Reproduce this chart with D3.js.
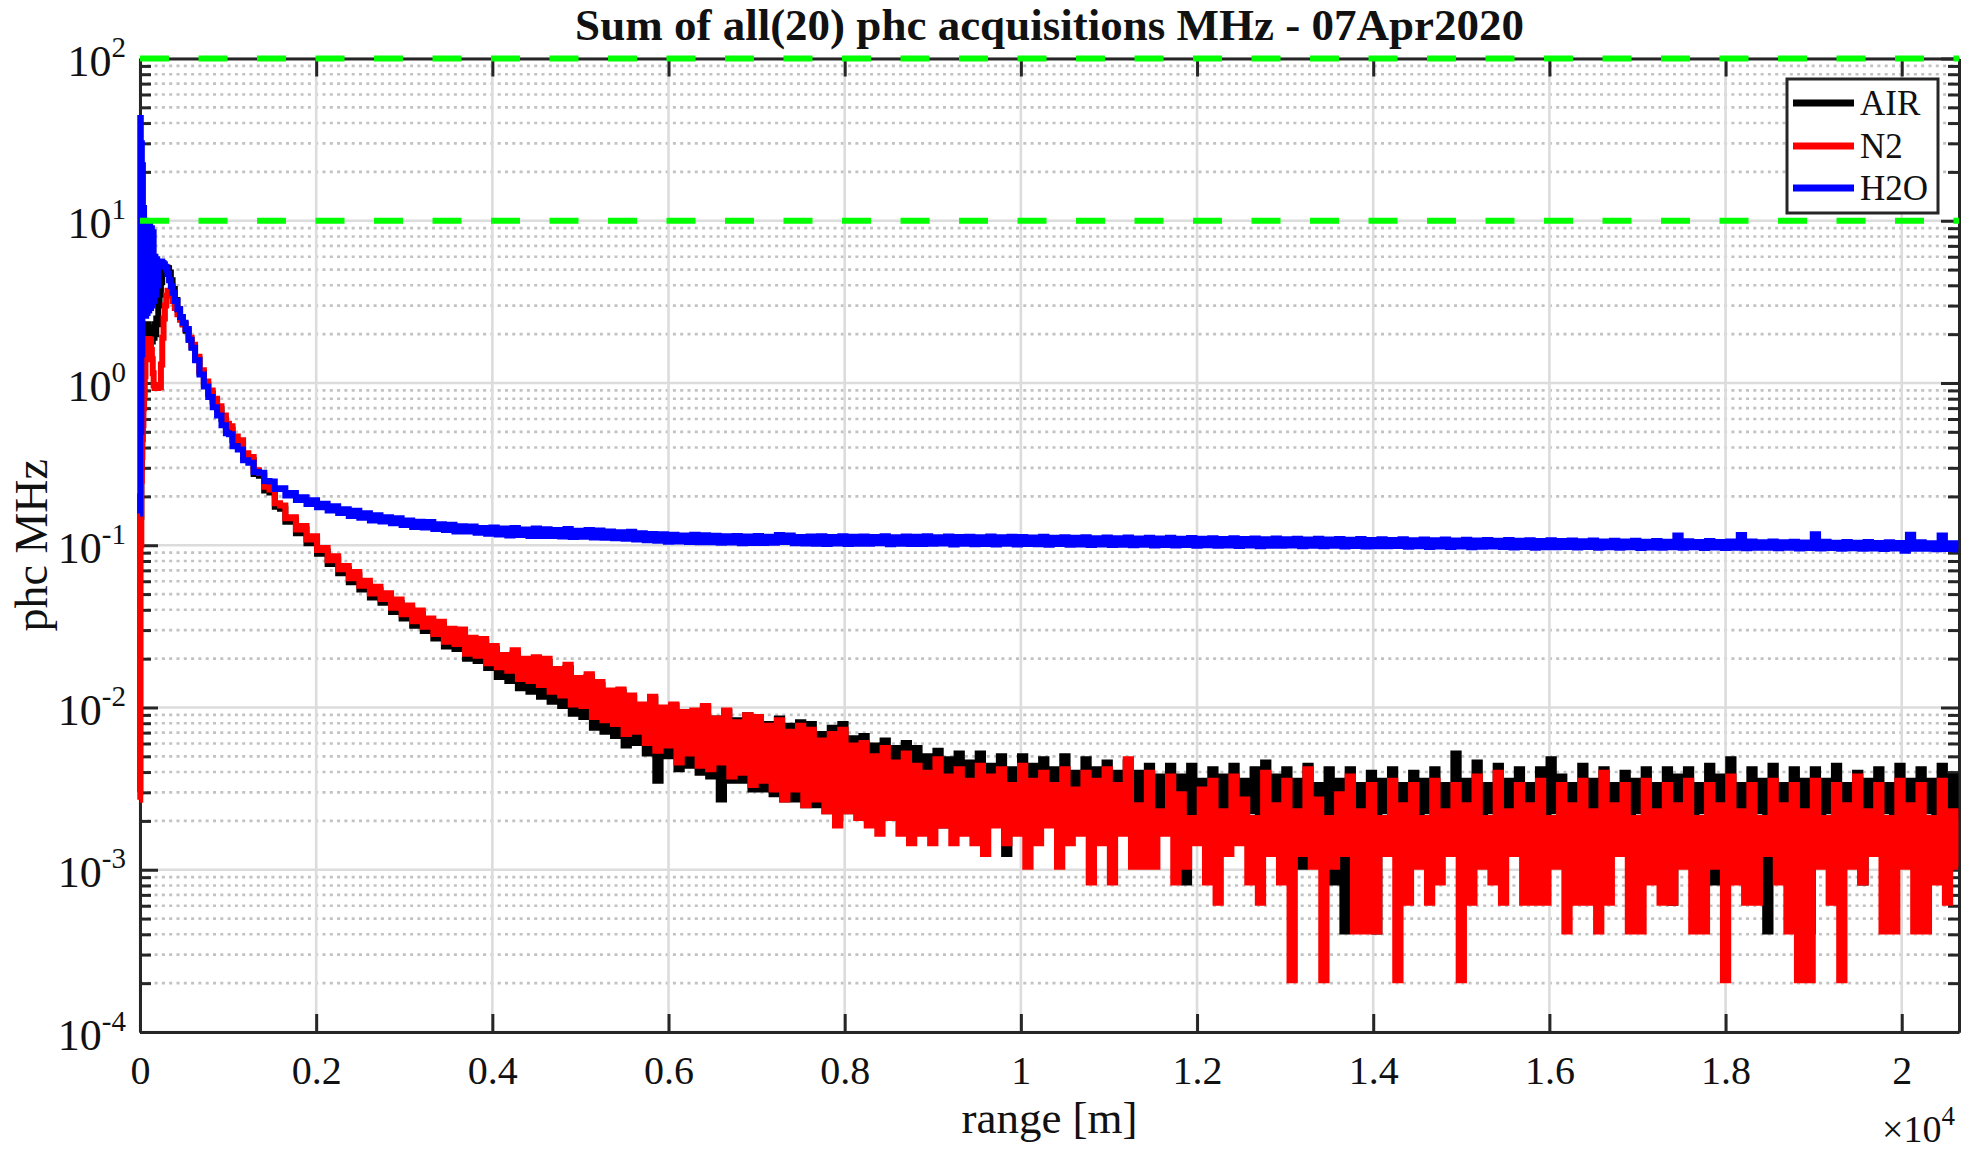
<!DOCTYPE html>
<html><head><meta charset="utf-8">
<script src="https://cdn.jsdelivr.net/npm/d3@7"></script>
<style>
html,body{margin:0;padding:0;background:#fff;}
svg{display:block;}
text{font-family:"Liberation Serif","Times New Roman",serif;fill:#111;}
</style></head><body>
<svg id="chart" width="1972" height="1153"></svg>
<script>
// ---------------- DATA ----------------
const titleText = "Sum of all(20) phc acquisitions MHz - 07Apr2020";
const xLabelText = "range [m]";
const yLabelText = "phc MHz";
const seriesNames = ["AIR", "N2", "H2O"];
const seriesColors = ["#000000", "#ff0000", "#0000ff"];
const xTickValues = [0, 2000, 4000, 6000, 8000, 10000, 12000, 14000, 16000, 18000, 20000];
const xTickLabels = ["0", "0.2", "0.4", "0.6", "0.8", "1", "1.2", "1.4", "1.6", "1.8", "2"];
const xExponentLabel = "4";
const yTickExponents = [-4, -3, -2, -1, 0, 1, 2];
const thresholdLevels = [100, 10];

// near field: explicit range bins (m) and values (MHz)
const nearRange = [0, 6, 12, 18, 24, 30, 36, 42, 50, 58, 66, 74, 82, 90, 100, 110, 120, 130, 140, 150, 160, 170, 180, 190, 200, 215, 230, 245, 260, 275, 290, 305, 320, 340, 360, 380, 410, 440, 470, 500, 535, 570, 600, 650, 700, 750, 800, 850, 900, 950, 1000];
const airNear = [0.003, 0.2, 0.15, 0.3, 0.5, 0.7, 0.9, 1.2, 1.5, 1.8, 2.1, 2.3, 2.0, 2.3, 1.8, 2.2, 1.75, 2.2, 1.8, 2.1, 1.9, 2.3, 2.0, 2.5, 2.3, 3.0, 3.5, 4.2, 4.7, 5.0, 5.1, 5.15, 5.1, 4.8, 4.3, 3.8, 3.25, 2.85, 2.55, 2.3, 2.1, 1.85, 1.66, 1.40, 1.16, 0.98, 0.86, 0.77, 0.69, 0.6, 0.535];
const n2Near = [0.0027, 0.16, 0.10, 0.25, 0.35, 0.45, 0.55, 0.7, 0.85, 1.1, 1.4, 1.87, 1.5, 1.8, 1.87, 1.7, 1.85, 1.6, 1.4, 1.15, 0.97, 0.93, 0.93, 0.95, 0.93, 0.97, 0.94, 1.3, 1.9, 2.5, 3.0, 3.45, 3.7, 3.65, 3.45, 3.2, 2.9, 2.65, 2.45, 2.3, 2.15, 1.9, 1.72, 1.45, 1.2, 1.02, 0.9, 0.8, 0.72, 0.63, 0.56];
const h2oNear = [0.157, 43, 0.5, 30, 1.5, 22, 4, 12, 3.0, 10, 2.6, 9.5, 2.7, 9.8, 2.8, 9.5, 2.9, 9.0, 3.0, 8.5, 3.2, 6.0, 3.5, 5.8, 4.0, 5.6, 5.6, 5.6, 5.5, 5.4, 5.2, 5.0, 4.7, 4.3, 3.95, 3.6, 3.2, 2.85, 2.55, 2.35, 2.15, 1.85, 1.65, 1.38, 1.13, 0.95, 0.82, 0.71, 0.63, 0.55, 0.49];

// far field: summed photon counts per 60 m bin starting at 1020 m
const farStartRange = 1020;
const farBinWidth = 60;
const countsPerMHz = 4800;
const airFarCounts = [
2480, 2140, 2040, 1680, 1610, 1320, 1285, 1045, 1015, 828,
806, 671, 684, 569, 603, 494, 521, 425, 441, 368,
391, 323, 342, 284, 313, 256, 277, 229, 254, 212,
232, 186, 212, 170, 195, 153, 181, 142, 162, 128,
155, 114, 140, 110, 138, 96, 123, 93, 121, 84,
110, 74, 97, 70, 103, 63, 92, 60, 94, 56,
92, 52, 80, 49, 84, 44, 70, 42, 74, 36,
66, 34, 59, 32, 60, 28, 55, 29, 49, 25,
54, 17, 47, 24, 49, 20, 44, 21, 45, 19,
48, 18, 41, 13, 45, 17, 40, 17, 43, 15,
42, 15, 38, 14, 41, 13, 37, 13, 39, 12,
38, 12, 33, 11, 36, 10, 38, 11, 31, 11,
32, 11, 28, 10, 30, 11, 27, 10, 29, 10,
27, 10, 24, 11, 26, 9, 23, 10, 25, 11,
22, 10, 25, 11, 21, 10, 24, 6, 20, 10,
24, 11, 21, 10, 23, 11, 20, 10, 24, 11,
19, 10, 23, 11, 20, 10, 22, 11, 19, 10,
22, 11, 19, 10, 21, 11, 18, 10, 21, 11,
18, 4, 21, 10, 17, 11, 20, 10, 18, 11,
21, 10, 17, 11, 20, 10, 22, 11, 18, 10,
20, 11, 17, 5, 21, 6, 16, 10, 20, 4,
17, 2, 20, 10, 16, 10, 19, 2, 17, 11,
20, 10, 16, 11, 19, 10, 17, 11, 20, 10,
16, 10, 25, 11, 17, 10, 22, 10, 16, 11,
21, 10, 17, 11, 20, 10, 16, 11, 20, 10,
23, 11, 18, 10, 16, 11, 21, 10, 17, 11,
20, 10, 16, 11, 19, 10, 17, 11, 20, 11,
16, 10, 20, 3, 18, 11, 20, 10, 16, 11,
21, 4, 18, 10, 23, 11, 16, 10, 20, 11,
17, 2, 21, 11, 16, 10, 20, 11, 17, 2,
20, 10, 17, 11, 21, 10, 16, 11, 19, 4,
17, 10, 20, 11, 16, 10, 21, 11, 17, 10,
20, 11, 17, 10, 21, 11, 18, 10];
const n2FarCounts = [
2600, 2250, 2130, 1770, 1680, 1390, 1340, 1100, 1060, 870,
845, 705, 715, 600, 630, 520, 545, 448, 462, 388,
410, 341, 358, 300, 328, 270, 290, 242, 266, 224,
243, 198, 222, 180, 204, 163, 190, 151, 170, 136,
162, 122, 147, 118, 145, 103, 129, 100, 127, 90,
115, 85, 101, 81, 108, 72, 96, 70, 98, 66,
96, 60, 83, 57, 88, 50, 73, 49, 77, 42,
69, 40, 61, 38, 62, 33, 57, 34, 50, 29,
56, 26, 48, 28, 50, 22, 45, 25, 46, 21,
49, 20, 41, 22, 46, 18, 39, 19, 43, 16,
42, 17, 37, 15, 40, 13, 34, 15, 37, 12,
35, 13, 30, 11, 33, 9, 35, 11, 28, 10,
29, 9, 24, 8, 27, 10, 22, 8, 25, 7,
21, 8, 19, 7, 23, 9, 18, 7, 20, 8,
17, 7, 21, 6, 18, 9, 20, 7, 16, 8,
21, 5, 17, 7, 19, 9, 16, 5, 20, 7,
15, 8, 19, 4, 17, 7, 20, 4, 16, 8,
23, 5, 12, 5, 19, 5, 11, 8, 18, 4,
14, 5, 10, 7, 15, 4, 17, 3, 11, 6,
18, 7, 13, 4, 10, 3, 19, 6, 12, 4,
17, 1, 11, 6, 20, 5, 13, 1, 10, 5,
14, 6, 18, 2, 11, 2, 16, 2, 10, 6,
17, 1, 12, 3, 16, 5, 10, 3, 17, 4,
11, 6, 16, 1, 12, 3, 18, 5, 10, 4,
19, 3, 11, 6, 16, 3, 12, 3, 17, 3,
10, 5, 16, 2, 12, 3, 17, 3, 11, 2,
19, 3, 12, 6, 16, 2, 10, 2, 17, 4,
11, 3, 16, 3, 12, 5, 17, 2, 10, 2,
16, 5, 12, 1, 18, 4, 11, 3, 16, 3,
10, 6, 17, 4, 12, 2, 16, 1, 11, 1,
17, 5, 10, 3, 16, 1, 12, 5, 18, 4,
11, 6, 16, 2, 10, 2, 17, 5, 12, 2,
16, 2, 10, 4, 17, 3, 11, 5];
const h2oFarCounts = [
2318, 1956, 1868, 1606, 1550, 1355, 1345, 1193, 1185, 1065,
1079, 973, 1008, 913, 950, 862, 909, 824, 864, 785,
834, 759, 800, 728, 783, 709, 756, 683, 734, 672,
713, 655, 703, 639, 682, 622, 670, 617, 667, 605,
647, 596, 641, 584, 629, 583, 627, 573, 614, 566,
618, 559, 609, 552, 614, 556, 601, 548, 608, 547,
602, 548, 596, 544, 605, 539, 590, 542, 597, 535,
591, 533, 583, 531, 578, 526, 582, 520, 569, 515,
564, 511, 561, 505, 557, 507, 552, 503, 557, 500,
553, 501, 549, 497, 546, 499, 548, 493, 543, 496,
547, 495, 542, 497, 556, 503, 552, 494, 540, 492,
543, 491, 546, 489, 540, 492, 545, 488, 542, 491,
543, 490, 539, 493, 546, 487, 538, 491, 544, 489,
541, 488, 545, 490, 537, 492, 543, 486, 539, 490,
542, 487, 538, 489, 544, 485, 537, 490, 541, 486,
539, 488, 535, 487, 541, 484, 534, 488, 538, 483,
534, 486, 537, 482, 531, 485, 536, 481, 530, 484,
535, 480, 529, 483, 534, 479, 528, 482, 533, 478,
527, 481, 532, 477, 526, 480, 531, 476, 525, 479,
530, 475, 524, 478, 529, 474, 523, 477, 528, 476,
522, 478, 527, 474, 521, 477, 526, 473, 520, 476,
525, 472, 519, 475, 524, 471, 518, 474, 523, 473,
517, 475, 522, 470, 516, 473, 521, 469, 515, 472,
520, 468, 514, 471, 519, 467, 513, 470, 518, 471,
512, 469, 517, 465, 511, 468, 516, 464, 510, 467,
515, 466, 509, 469, 514, 465, 508, 468, 513, 464,
507, 467, 512, 463, 506, 466, 511, 462, 505, 465,
510, 464, 504, 467, 552, 463, 508, 466, 503, 462,
509, 465, 502, 461, 507, 464, 556, 460, 506, 463,
501, 464, 506, 460, 500, 463, 505, 459, 499, 462,
561, 458, 504, 461, 498, 457, 503, 460, 497, 456,
502, 459, 496, 455, 501, 458, 495, 444, 558, 457,
500, 456, 494, 453, 552, 455, 493, 452];

// ---------------- LAYOUT ----------------
const P = {left: 140, right: 1959, top: 58.5, bottom: 1032};
const xMax = 20650;
const axisColor = "#262626";
const lineW = 6;

const svg = d3.select("#chart");
const x = d3.scaleLinear().domain([0, xMax]).range([P.left, P.right]);
const y = d3.scaleLog().domain([1e-4, 1e2]).range([P.bottom, P.top]);

function buildSeries(near, farCounts) {
  const pts = nearRange.map((r, i) => ({r: r, v: near[i]}));
  farCounts.forEach((c, i) => pts.push({r: farStartRange + farBinWidth * i, v: c / countsPerMHz}));
  return pts;
}
const series = [
  buildSeries(airNear, airFarCounts),
  buildSeries(n2Near, n2FarCounts),
  buildSeries(h2oNear, h2oFarCounts)
];

const decades = yTickExponents.map(e => Math.pow(10, e));
const minorVals = [];
for (let e = -4; e < 2; e++) for (let k = 2; k <= 9; k++) minorVals.push(k * Math.pow(10, e));

// ---------------- GRID ----------------
const grid = svg.append("g");
grid.selectAll("line.minor").data(minorVals).join("line")
  .attr("x1", P.left).attr("x2", P.right)
  .attr("y1", d => y(d)).attr("y2", d => y(d))
  .attr("stroke", "#c2c2c2").attr("stroke-width", 2.6).attr("stroke-dasharray", "3 4.3");
grid.selectAll("line.hmaj").data(decades).join("line")
  .attr("x1", P.left).attr("x2", P.right)
  .attr("y1", d => y(d)).attr("y2", d => y(d))
  .attr("stroke", "#dcdcdc").attr("stroke-width", 2.6);
grid.selectAll("line.vmaj").data(xTickValues).join("line")
  .attr("x1", d => x(d)).attr("x2", d => x(d))
  .attr("y1", P.top).attr("y2", P.bottom)
  .attr("stroke", "#dcdcdc").attr("stroke-width", 2.6);

// ---------------- AXES ----------------
function styleAxis(g) {
  g.select(".domain").attr("stroke", axisColor).attr("stroke-width", 3);
  g.selectAll(".tick line").attr("stroke", axisColor).attr("stroke-width", 3);
}
const gxB = svg.append("g").attr("transform", `translate(0,${P.bottom})`)
  .call(d3.axisBottom(x).tickValues(xTickValues).tickSize(-18).tickSizeOuter(0)
    .tickFormat((d, i) => xTickLabels[i]));
styleAxis(gxB);
gxB.selectAll(".tick text").attr("y", 52).attr("dy", 0)
  .attr("font-size", 40).attr("font-family", "Liberation Serif").attr("fill", "#111");

const gxT = svg.append("g").attr("transform", `translate(0,${P.top})`)
  .call(d3.axisTop(x).tickValues(xTickValues).tickSize(-18).tickSizeOuter(0).tickFormat(""));
styleAxis(gxT);

const gyL = svg.append("g").attr("transform", `translate(${P.left},0)`)
  .call(d3.axisLeft(y).tickValues(decades).tickSize(-18).tickSizeOuter(0).tickFormat(""));
styleAxis(gyL);
gyL.selectAll(".tick text").each(function(d, i) {
  const t = d3.select(this);
  t.text(null).attr("x", -14).attr("y", 17).attr("dy", 0)
    .attr("font-size", 44).attr("font-family", "Liberation Serif").attr("fill", "#111")
    .attr("text-anchor", "end");
  t.append("tspan").text("10");
  t.append("tspan").attr("dy", -19).attr("font-size", 29).text(String(yTickExponents[i]));
});
const gyLm = svg.append("g").attr("transform", `translate(${P.left},0)`)
  .call(d3.axisLeft(y).tickValues(minorVals).tickSize(-11).tickSizeOuter(0).tickFormat(""));
styleAxis(gyLm);

const gyR = svg.append("g").attr("transform", `translate(${P.right},0)`)
  .call(d3.axisRight(y).tickValues(decades).tickSize(-18).tickSizeOuter(0).tickFormat(""));
styleAxis(gyR);
const gyRm = svg.append("g").attr("transform", `translate(${P.right},0)`)
  .call(d3.axisRight(y).tickValues(minorVals).tickSize(-11).tickSizeOuter(0).tickFormat(""));
styleAxis(gyRm);

// ---------------- DATA LINES ----------------
svg.append("defs").append("clipPath").attr("id", "plotclip")
  .append("rect").attr("x", P.left - 4).attr("y", P.top - 2)
  .attr("width", P.right - P.left + 4).attr("height", P.bottom - P.top + 4);

const line = d3.line().x(d => x(d.r)).y(d => y(d.v)).curve(d3.curveStep);
const gData = svg.append("g").attr("clip-path", "url(#plotclip)");
series.forEach((s, i) => {
  gData.append("path").datum(s).attr("d", line)
    .attr("fill", "none").attr("stroke", seriesColors[i])
    .attr("stroke-width", lineW).attr("stroke-linejoin", "miter").attr("stroke-linecap", "butt");
});

// threshold dashed lines
svg.selectAll("line.thr").data(thresholdLevels).join("line")
  .attr("x1", P.left).attr("x2", P.right)
  .attr("y1", d => y(d)).attr("y2", d => y(d))
  .attr("stroke", "#00ff00").attr("stroke-width", 6).attr("stroke-dasharray", "29 29.5");

// ---------------- TEXT ----------------
svg.append("text").attr("x", (P.left + P.right) / 2).attr("y", 40)
  .attr("text-anchor", "middle").attr("font-size", 45).attr("font-weight", "bold")
  .attr("fill", "#000").text(titleText);

svg.append("text").attr("x", (P.left + P.right) / 2).attr("y", 1133)
  .attr("text-anchor", "middle").attr("font-size", 45).text(xLabelText);

svg.append("text").attr("transform", `translate(47,${(P.top + P.bottom) / 2}) rotate(-90)`)
  .attr("text-anchor", "middle").attr("font-size", 46).text(yLabelText);

const expText = svg.append("text").attr("x", 1955).attr("y", 1142)
  .attr("text-anchor", "end").attr("font-size", 38);
expText.append("tspan").text("\u00d710");
expText.append("tspan").attr("dy", -17).attr("font-size", 27).text(xExponentLabel);

// ---------------- LEGEND ----------------
const leg = svg.append("g");
leg.append("rect").attr("x", 1787).attr("y", 79).attr("width", 151).attr("height", 134)
  .attr("fill", "#fff").attr("stroke", axisColor).attr("stroke-width", 3);
const rowY = [103, 146, 188];
seriesNames.forEach((n, i) => {
  leg.append("line").attr("x1", 1793).attr("x2", 1854).attr("y1", rowY[i]).attr("y2", rowY[i])
    .attr("stroke", seriesColors[i]).attr("stroke-width", lineW + 1);
  leg.append("text").attr("x", 1860).attr("y", rowY[i] + 12).attr("font-size", 35).text(n);
});
</script>
</body></html>
